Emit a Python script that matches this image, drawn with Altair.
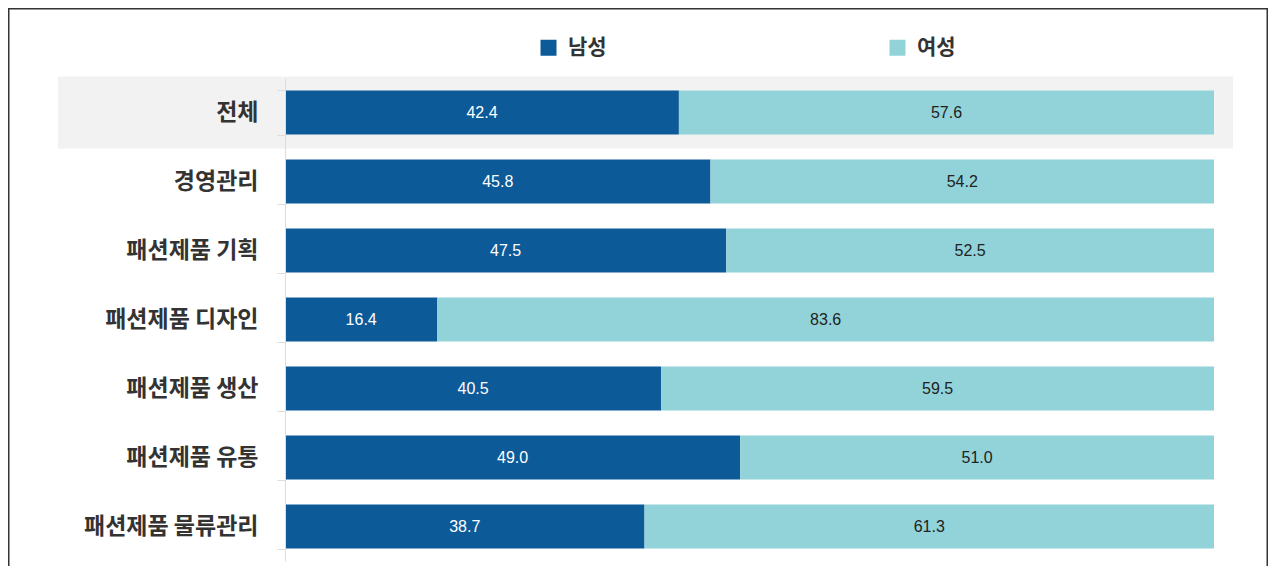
import altair as alt
import pandas as pd

categories = ["전체", "경영관리", "패션제품 기획", "패션제품 디자인",
              "패션제품 생산", "패션제품 유통", "패션제품 물류관리"]
male = [42.4, 45.8, 47.5, 16.4, 40.5, 49.0, 38.7]
female = [57.6, 54.2, 52.5, 83.6, 59.5, 51.0, 61.3]
series = ["남성", "여성"]
colors = ["#0D5A99", "#91D3D9"]
highlight = ["전체"]

rows = []
for c, m, f in zip(categories, male, female):
    rows.append({"cat": c, "gender": series[0], "order": 0, "value": m})
    rows.append({"cat": c, "gender": series[1], "order": 1, "value": f})
df = pd.DataFrame(rows)

W, H = 929, 483
PAD_L, PAD_T, PAD_R, PAD_B = 277, 70, 54, 5
KFONT = "Noto Sans CJK KR"

y_scale = alt.Scale(domain=categories, paddingInner=0.36, paddingOuter=0.18)
x_scale = alt.Scale(domain=[0, 100], nice=False, zero=True)
y_axis = alt.Axis(title=None, domainColor="#dddddd", tickColor="#dddddd", tickSize=8,
                  tickBand="extent", labelFontSize=23, labelFontWeight="bold",
                  labelColor="#333333", labelPadding=19, labelFont=KFONT, labelLimit=300)
y_enc = alt.Y("cat:N", scale=y_scale, axis=y_axis, sort=categories)

frame = alt.Chart(pd.DataFrame({"k": [0]})).mark_rect(
    fillOpacity=0, stroke="#333333", strokeWidth=1.5
).encode(x=alt.value(-PAD_L + 0.75), x2=alt.value(W + PAD_R - 0.75),
         y=alt.value(-PAD_T + 0.75), y2=alt.value(H + 60))

hl = alt.Chart(pd.DataFrame({"cat": highlight})).mark_rect(
    color="#F2F2F2", height={"band": 1.63}
).encode(y=y_enc, x=alt.value(-227), x2=alt.value(948))

base = alt.Chart(df).transform_stack(
    stack="value", groupby=["cat"], as_=["x0", "x1"],
    sort=[alt.SortField("order", order="ascending")]
).transform_calculate(mid="(datum.x0 + datum.x1) / 2")

bars = base.mark_bar().encode(
    y=y_enc,
    x=alt.X("x0:Q", scale=x_scale, axis=None),
    x2="x1:Q",
    color=alt.Color("gender:N", scale=alt.Scale(domain=series, range=colors),
                    legend=alt.Legend(title=None, orient="none", legendX=253, legendY=-41,
                                      direction="horizontal", columns=2, columnPadding=280,
                                      symbolType="square", symbolSize=256, symbolStrokeWidth=0,
                                      labelFontSize=21, labelFontWeight="bold",
                                      labelColor="#333333", labelFont=KFONT, labelOffset=9,
                                      padding=0)),
)

text = base.mark_text(fontSize=16, font="Liberation Sans").encode(
    y=y_enc,
    x=alt.X("mid:Q", scale=x_scale, axis=None),
    text=alt.Text("value:Q", format=".1f"),
    color=alt.condition(alt.datum.gender == series[0], alt.value("white"), alt.value("#222222")),
)

chart = alt.layer(frame, hl, bars, text).properties(
    width=W, height=H,
    autosize=alt.AutoSizeParams(type="none"),
    padding={"left": PAD_L, "top": PAD_T, "right": PAD_R, "bottom": PAD_B},
).configure_view(stroke=None)

chart.save("out.html", embed_options={"renderer": "svg", "actions": False})
